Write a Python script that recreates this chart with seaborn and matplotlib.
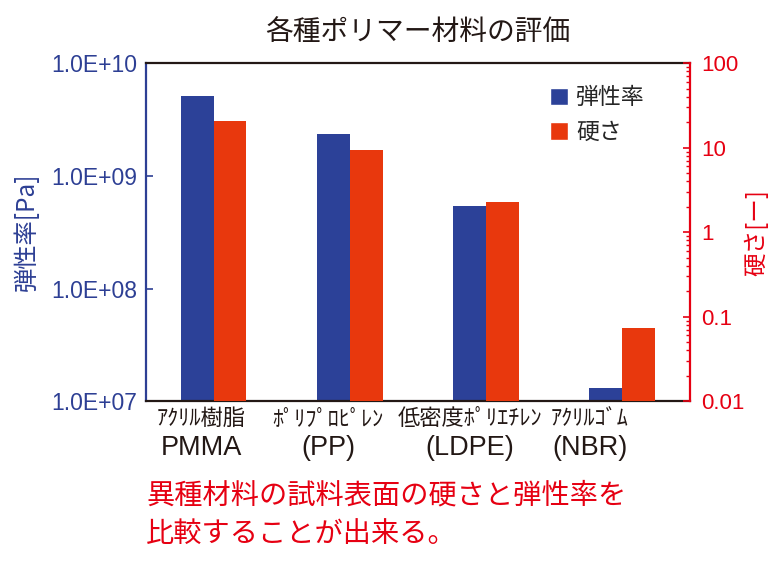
import numpy as np
import pandas as pd
import matplotlib
matplotlib.use("Agg")
import matplotlib.pyplot as plt
from matplotlib.patches import Patch
from matplotlib.ticker import FixedLocator, NullLocator, LogLocator, NullFormatter
import seaborn as sns

# data
materials = ["ｱｸﾘﾙ樹脂", "ﾎﾟﾘﾌﾟﾛﾋﾟﾚﾝ", "低密度ﾎﾟﾘｴﾁﾚﾝ", "ｱｸﾘﾙｺﾞﾑ"]
abbrevs = ["PMMA", "(PP)", "(LDPE)", "(NBR)"]
modulus = [5.1e9, 2.35e9, 5.4e8, 1.3e7]     # 弾性率 [Pa]
hardness = [20.5, 9.3, 2.25, 0.073]          # 硬さ [-]
series = ["弾性率", "硬さ"]
left_ticks = [1e7, 1e8, 1e9, 1e10]
left_ticklabels = ["1.0E+07", "1.0E+08", "1.0E+09", "1.0E+10"]
right_ticks = [0.01, 0.1, 1, 10, 100]
right_ticklabels = ["0.01", "0.1", "1", "10", "100"]
# category labels sit a little left of the bar pairs in the original
label_shift = [-0.09, -0.16, -0.12, -0.235]

BLUE = "#2c4198"
RED_BAR = "#e8380d"
RED = "#e60012"
AXIS_BLUE = "#2d3f94"
LATIN = ["Liberation Sans", "Noto Sans CJK JP"]

sns.set_theme(style="ticks")
plt.rcParams["font.family"] = ["Noto Sans CJK JP", "DejaVu Sans"]

df_mod = pd.DataFrame({"material": materials, "value": modulus, "series": series[0]})
df_hard = pd.DataFrame({"material": materials, "value": hardness, "series": series[1]})
palette = {series[0]: BLUE, series[1]: RED_BAR}

fig = plt.figure(figsize=(7.84, 5.65), dpi=100)
ax = fig.add_axes([0.186, 0.290, 0.694, 0.598])
ax2 = ax.twinx()
ax.set_yscale("log")
ax2.set_yscale("log")

# both axes use the same hue order so the two series sit side by side
common = dict(x="material", y="value", hue="series", hue_order=series, order=materials,
              palette=palette, width=0.48, dodge=True, saturation=1, errorbar=None,
              legend=False, linewidth=0)
sns.barplot(data=df_mod, ax=ax, **common)
sns.barplot(data=df_hard, ax=ax2, **common)

# left axis (modulus)
ax.set_ylim(1e7, 1e10)
ax.yaxis.set_major_locator(FixedLocator(left_ticks))
ax.yaxis.set_minor_locator(NullLocator())
ax.yaxis.set_minor_formatter(NullFormatter())
ax.set_yticks(left_ticks, left_ticklabels)
ax.tick_params(axis="y", direction="in", length=5, width=1.2, color=AXIS_BLUE,
               labelcolor=AXIS_BLUE, labelsize=16.5, pad=6)
for lab in ax.get_yticklabels():
    lab.set_family(LATIN)
ax.set_ylabel("弾性率[Pa]", color=AXIS_BLUE, fontsize=17.5, labelpad=8)

# right axis (hardness)
ax2.set_ylim(0.01, 100)
ax2.yaxis.set_major_locator(FixedLocator(right_ticks))
ax2.yaxis.set_minor_locator(LogLocator(base=10, subs=np.arange(2, 10)))
ax2.yaxis.set_minor_formatter(NullFormatter())
ax2.set_yticks(right_ticks, right_ticklabels)
ax2.tick_params(axis="y", which="major", direction="in", length=5, width=1.2, color=RED,
                labelcolor=RED, labelsize=16, pad=8)
ax2.tick_params(axis="y", which="minor", direction="in", length=3, width=1.0, color=RED)
for lab in ax2.get_yticklabels():
    lab.set_family(LATIN)
ax2.set_ylabel("硬さ[ー]", color=RED, fontsize=17, rotation=90, labelpad=0)

# spines
for sp in ["top", "bottom"]:
    ax.spines[sp].set_color("#231815")
    ax.spines[sp].set_linewidth(1.6)
    ax2.spines[sp].set_visible(False)
ax.spines["left"].set_color(AXIS_BLUE)
ax.spines["left"].set_linewidth(1.6)
ax.spines["right"].set_visible(False)
ax2.spines["left"].set_visible(False)
ax2.spines["right"].set_color(RED)
ax2.spines["right"].set_linewidth(1.6)

# category labels, two lines
ax.set_xlim(-0.5, len(materials) - 0.5)
ax.tick_params(axis="x", length=0, labelbottom=False)
ax.set_xlabel("")
for i, (name, ab) in enumerate(zip(materials, abbrevs)):
    xc = i + label_shift[i]
    ax.annotate(name, xy=(xc, 0), xycoords=("data", "axes fraction"),
                xytext=(0, -12.5), textcoords="offset points",
                ha="center", va="center", fontsize=16, color="#231815")
    ax.annotate(ab, xy=(xc, 0), xycoords=("data", "axes fraction"),
                xytext=(0, -33.5), textcoords="offset points",
                ha="center", va="center", fontsize=19.5, color="#231815", family=LATIN)

# legend
handles = [Patch(facecolor=BLUE, label=series[0]), Patch(facecolor=RED_BAR, label=series[1])]
ax2.legend(handles=handles, loc="upper left", bbox_to_anchor=(0.743, 0.932), frameon=False,
           fontsize=16.5, handlelength=0.8, handleheight=0.8, handletextpad=0.35,
           labelspacing=0.5, borderpad=0, borderaxespad=0)

fig.text(418 / 784, 1 - 32.5 / 565, "各種ポリマー材料の評価", ha="center", va="center",
         fontsize=20, color="#231815")
fig.text(146 / 784, 1 - 495 / 565, "異種材料の試料表面の硬さと弾性率を", ha="left", va="center",
         fontsize=20.3, color=RED)
fig.text(146 / 784, 1 - 534 / 565, "比較することが出来る。", ha="left", va="center",
         fontsize=20.3, color=RED)

fig.savefig("out.png", dpi=100)
